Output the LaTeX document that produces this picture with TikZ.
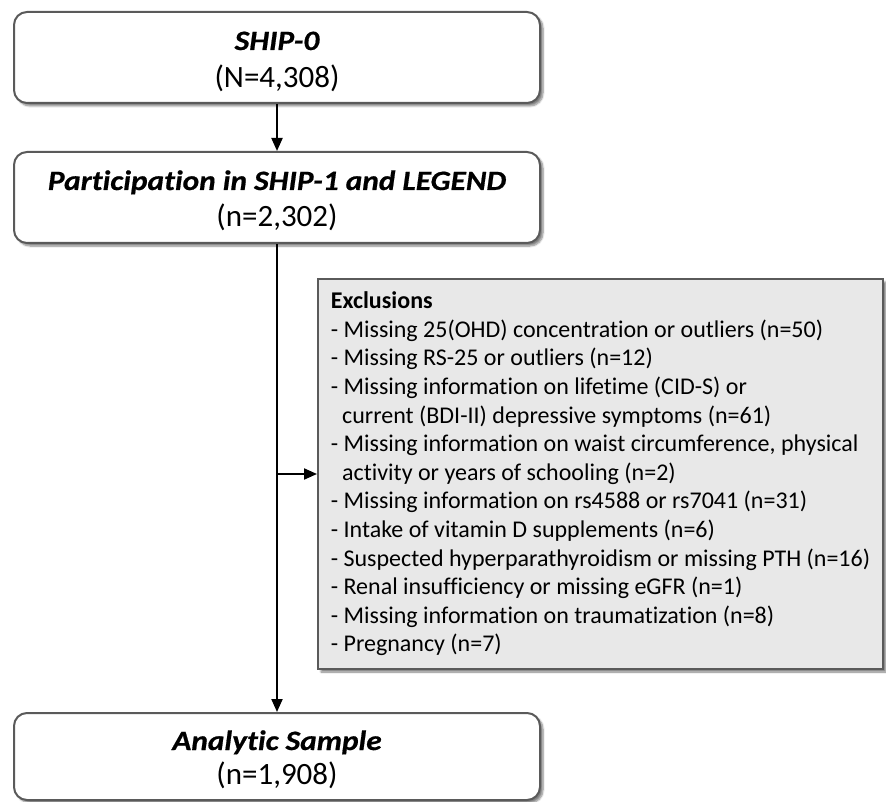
\documentclass[tikz,border=0pt]{standalone}
\usepackage{fontspec}
\setmainfont{Carlito}[Ligatures=NoCommon]
\newfontfamily\ttlfont{Carlito}[Ligatures=NoCommon,FakeStretch=1.12,FakeBold=0.6]
\usetikzlibrary{arrows.meta,shadows.blur}

\begin{document}
\begin{tikzpicture}[x=1pt,y=-1pt,
  stepbox/.style={draw=boxline,line width=2pt,rounded corners=13pt,fill=white,
    minimum width=526pt,minimum height=91pt,
    blur shadow={shadow xshift=3pt,shadow yshift=-3pt,shadow blur steps=6,shadow opacity=50}},
  exclbox/.style={draw=boxline,line width=2pt,fill=exclfill,
    minimum width=565pt,minimum height=390pt,align=left,
    blur shadow={shadow xshift=3pt,shadow yshift=-3pt,shadow blur steps=6,shadow opacity=50},
    font=\fontsize{24}{28.6}\selectfont},
  flow/.style={line width=2pt,-{Triangle[length=13pt,width=11pt]}},
  ttl/.style={anchor=base,font=\ttlfont\fontsize{28}{32}\selectfont\bfseries\itshape},
  cnt/.style={anchor=base,font=\fontsize{31}{36}\selectfont}]
\definecolor{boxline}{HTML}{5A5A5A}
\definecolor{exclfill}{HTML}{E8E8E8}
\useasboundingbox (0,0) rectangle (886,802);
\node [stepbox] (ship) at (277,57.5) {};
\node [ttl] (shiptxt) at (277,50) {SHIP-0};
\node [cnt] (shipn) at (277,87.5) {(N=4,308)};
\node [stepbox] (part) at (277,197.5) {};
\node [ttl] (parttxt) at (277,190) {Participation in SHIP-1 and LEGEND};
\node [cnt] (partn) at (277,227) {(n=2,302)};
\node [stepbox,minimum height=87pt] (ana) at (277,756.5) {};
\node [ttl] (anatxt) at (277,750) {Analytic Sample};
\node [cnt] (anan) at (277,784) {(n=1,908)};
\node [exclbox] (excl) at (600.5,474) {\textbf{Exclusions}\\
- Missing 25(OHD) concentration or outliers (n=50)\\
- Missing RS-25 or outliers (n=12)\\
- Missing information on lifetime (CID-S) or\\
\phantom{-}\,current (BDI-II) depressive symptoms (n=61)\\
- Missing information on waist circumference, physical\\
\phantom{-}\,activity or years of schooling (n=2)\\
- Missing information on rs4588 or rs7041 (n=31)\\
- Intake of vitamin D supplements (n=6)\\
- Suspected hyperparathyroidism or missing PTH (n=16)\\
- Renal insufficiency or missing eGFR (n=1)\\
- Missing information on traumatization (n=8)\\
- Pregnancy (n=7)};
\coordinate (split) at (part.south |- excl.west);
% arrows
\draw [flow] (ship.south) -- (part.north);
\draw [flow] (part.south) -- (ana.north);
\draw [flow] (split) -- (excl.west);
\end{tikzpicture}
\end{document}
